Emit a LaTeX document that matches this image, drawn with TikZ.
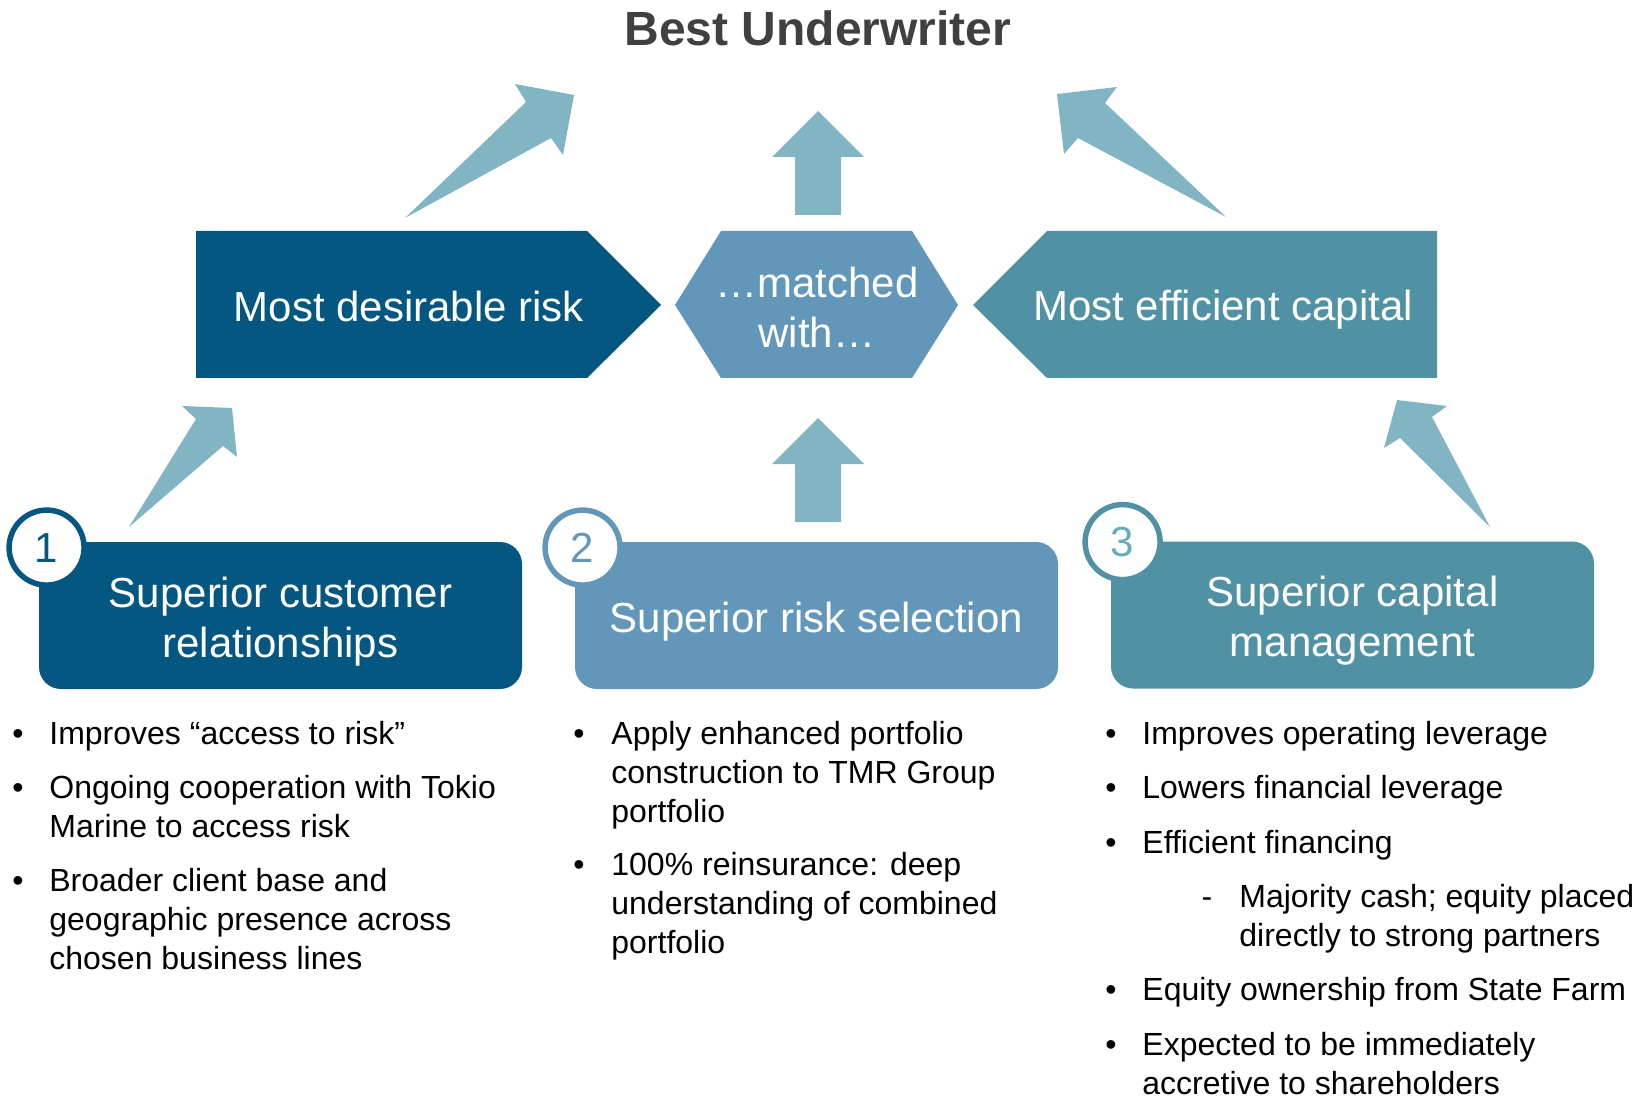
\documentclass[tikz,border=0pt]{standalone}
\usepackage{fontspec}
\setmainfont{Liberation Sans}
\usetikzlibrary{positioning}
\definecolor{dkblue}{RGB}{4,87,128}
\definecolor{mdblue}{RGB}{99,151,185}
\definecolor{teal}{RGB}{80,146,163}
\definecolor{ltteal}{RGB}{104,172,186}
\definecolor{arrowc}{RGB}{130,181,195}
\definecolor{titlegray}{RGB}{64,64,64}
\tikzset{title/.style = {font=\fontsize{24}{28}\selectfont\bfseries, text=titlegray}}
\tikzset{headtext/.style = {text=white, align=center, font=\fontsize{21}{25}\selectfont}}
\tikzset{pillar/.style = {rounded corners=11pt, inner sep=0, minimum width=241.5pt,
                          minimum height=73.5pt}}
\tikzset{pillartext/.style = {text=white, align=center, yshift=-3pt,
                              font=\fontsize{21}{25}\selectfont}}
\tikzset{num/.style = {circle, fill=white, line width=2.75pt, inner sep=0,
                       minimum size=37.5pt, font=\fontsize{21}{25}\selectfont}}
% items sit on the baseline of their last line
\tikzset{item/.style = {anchor=base west, align=left, inner sep=0,
                        font=\fontsize{16}{19.5}\selectfont}}
\tikzset{bul/.style = {anchor=base, inner sep=0, font=\fontsize{16}{19.5}\selectfont}}

\begin{document}
\begin{tikzpicture}[x=0.5pt, y=-0.5pt]
    \useasboundingbox (0,0) rectangle (1648,1096);
    \node [title] (best) at (818,28) {Best Underwriter};

    % arrows into the title
    \fill [arrowc] (405,218) -- (526,102) -- (515,84) -- (574,95) -- (563,155) -- (551,138) -- cycle;
    \fill [arrowc] (795,215) -- (795,157) -- (772,157) -- (818,111) -- (864,157) -- (841,157) -- (841,215) -- cycle;
    \fill [arrowc] (1226,217) -- (1105,103) -- (1117,87) -- (1057,94) -- (1064,154) -- (1078,138) -- cycle;

    % middle row
    \fill [dkblue] (196,231) -- (587,231) -- (661,305) -- (587,378) -- (196,378) -- cycle;
    \fill [mdblue] (675,305) -- (721,231) -- (912,231) -- (958,305) -- (912,378) -- (721,378) -- cycle;
    \fill [teal] (973,305) -- (1047,231) -- (1437,231) -- (1437,378) -- (1047,378) -- cycle;
    \node [headtext] (risk) at (409,306) {Most desirable risk};
    \node [headtext] (match) at (817,307) {\ldots matched\\with\ldots};
    \node [headtext] (capital) at (1223,310) {Most efficient capital};

    % arrows from the pillars
    \fill [arrowc] (129,527) -- (196,419) -- (182,406) -- (232,408) -- (237,457) -- (223,446) -- cycle;
    \fill [arrowc] (795,522) -- (795,464) -- (772,464) -- (818,418) -- (864,464) -- (841,464) -- (841,522) -- cycle;
    \fill [arrowc] (1490,527) -- (1432,417) -- (1447,406) -- (1397,400) -- (1384,448) -- (1400,438) -- cycle;

    % pillars
    \node [pillar, fill=dkblue] (cust) at (280.5,615.5) {};
    \node [pillar, fill=mdblue] (sel) at (816.5,615.5) {};
    \node [pillar, fill=teal] (cap) at (1352.5,615) {};
    \node [pillartext] (custtext) at (cust.center) {Superior customer\\relationships};
    \node [pillartext] (seltext) at (sel.center) {Superior risk selection};
    \node [pillartext] (captext) at (cap.center) {Superior capital\\management};
    \node [num, draw=dkblue, text=dkblue] (n1) at ([shift={(8,6)}]cust.north west) {1};
    \node [num, draw=mdblue, text=mdblue] (n2) at ([shift={(8,6)}]sel.north west) {2};
    \node [num, draw=teal, text=ltteal] (n3) at ([shift={(12,1)}]cap.north west) {3};

    % bullets
    \node [item] (c1a) at (49,744.5) {Improves “access to risk”};
    \node [item] (c1b) at (49,837.5) {Ongoing cooperation with Tokio\\Marine to access risk};
    \node [item] (c1c) at (49,969.5) {Broader client base and\\geographic presence across\\chosen business lines};
    \foreach \y in {744.5,798.5,891.5}
        \node [bul] at (18,\y) {\textbullet};

    \node [item] (c2a) at (611,822.5) {Apply enhanced portfolio\\construction to TMR Group\\portfolio};
    \node [item] (c2b) at (611,953.5) {100\% reinsurance: deep\\understanding of combined\\portfolio};
    \foreach \y in {744.5,875.5}
        \node [bul] at (579,\y) {\textbullet};

    \node [item] (c3a) at (1142,744.5) {Improves operating leverage};
    \node [item] (c3b) at (1142,798.5) {Lowers financial leverage};
    \node [item] (c3c) at (1142,853.5) {Efficient financing};
    \node [item] (c3d) at (1239,946.5) {Majority cash; equity placed\\directly to strong partners};
    \node [item] (c3e) at (1142,1000.5) {Equity ownership from State Farm};
    \node [item] (c3f) at (1142,1094.5) {Expected to be immediately\\accretive to shareholders};
    \foreach \y in {744.5,798.5,853.5,1000.5,1055.5}
        \node [bul] at (1111,\y) {\textbullet};
    \node [bul] at (1207,907.5) {-};
\end{tikzpicture}
\end{document}
